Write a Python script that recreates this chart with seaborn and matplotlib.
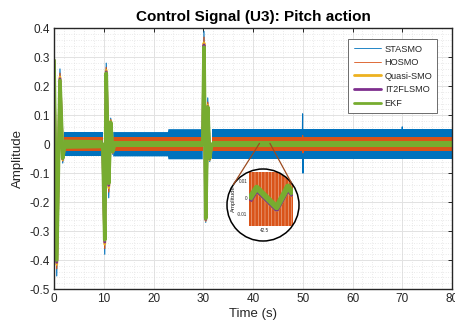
import numpy as np
import pandas as pd
import matplotlib
matplotlib.use("Agg")
import matplotlib.pyplot as plt
from matplotlib.patches import Ellipse, ConnectionPatch
from matplotlib.lines import Line2D
from matplotlib.ticker import MultipleLocator
import seaborn as sns

# ---------------- data ----------------
series = ["STASMO", "HOSMO", "Quasi-SMO", "IT2FLSMO", "EKF"]
colors = ["#0072BD", "#D95319", "#EDB120", "#7E2F8E", "#77AC30"]
line_widths = [0.8, 0.9, 2.0, 2.0, 2.6]
legend_widths = [0.6, 0.6, 2.0, 2.0, 2.0]

# transient responses (pitch reference changes at t = 0, 10, 30, 50, 70 s)
t_trans = [0.0, 0.55, 1.2, 1.75, 2.2, 9.8, 10.2, 10.5, 11.0, 11.4, 11.8, 12.2,
           29.9, 30.15, 30.5, 30.9, 31.3, 31.7, 49.9, 49.97, 50.05, 50.15,
           69.9, 70.0, 70.1, 80.0]
u3_stasmo = [0.30, -0.455, 0.26, -0.065, 0.0, 0.0, -0.38, 0.28, -0.185, 0.09, -0.035, 0.0,
             0.0, 0.39, -0.27, 0.16, -0.06, 0.0, 0.0, 0.105, -0.10, 0.0,
             0.0, 0.06, 0.0, 0.0]
u3_hosmo = [0.295, -0.43, 0.245, -0.058, 0.0, 0.0, -0.36, 0.265, -0.165, 0.085, -0.03, 0.0,
            0.0, 0.37, -0.265, 0.145, -0.055, 0.0, 0.0, 0.03, -0.03, 0.0,
            0.0, 0.0, 0.0, 0.0]
u3_quasi = [0.29, -0.415, 0.232, -0.053, 0.0, 0.0, -0.345, 0.255, -0.15, 0.08, -0.028, 0.0,
            0.0, 0.35, -0.262, 0.135, -0.052, 0.0, 0.0, 0.0, 0.0, 0.0,
            0.0, 0.0, 0.0, 0.0]
u3_it2 = [0.29, -0.408, 0.226, -0.05, 0.0, 0.0, -0.338, 0.25, -0.142, 0.077, -0.027, 0.0,
          0.0, 0.343, -0.26, 0.13, -0.05, 0.0, 0.0, 0.0, 0.0, 0.0,
          0.0, 0.0, 0.0, 0.0]
u3_ekf = [0.29, -0.40, 0.22, -0.048, 0.0, 0.0, -0.33, 0.245, -0.135, 0.075, -0.025, 0.0,
          0.0, 0.335, -0.256, 0.128, -0.048, 0.0, 0.0, 0.0, 0.0, 0.0,
          0.0, 0.0, 0.0, 0.0]

# chattering envelopes (half-width of the high-frequency band), NaN = no band
t_env = [2.0, 9.8, np.nan, 11.9, 22.9, 23.0, 29.9, np.nan, 31.7, 80.0]
env_stasmo = [0.042, 0.042, np.nan, 0.042, 0.042, 0.052, 0.052, np.nan, 0.052, 0.052]
env_hosmo = [0.025, 0.025, np.nan, 0.025, 0.025, 0.025, 0.025, np.nan, 0.025, 0.025]
env_quasi = [0.0095, 0.0095, np.nan, 0.0095, 0.0095, 0.0095, 0.0095, np.nan, 0.0095, 0.0095]
env_it2 = [0.0095, 0.0095, np.nan, 0.0095, 0.0095, 0.0095, 0.0095, np.nan, 0.0095, 0.0095]
env_ekf = [0.016, 0.014, np.nan, 0.011, 0.011, 0.011, 0.011, np.nan, 0.011, 0.011]

# zoomed window around t = 42.5 s
t_zoom = [42.45, 42.4747, 42.5413, 42.579, 42.597]
zoom_quasi = [-0.0012, 0.0050, -0.0068, 0.0057, 0.0012]
zoom_it2 = [-0.0017, 0.0052, -0.0066, 0.0059, 0.0014]
zoom_ekf = [-0.0008, 0.0061, -0.0058, 0.0068, 0.0022]
zoom_hosmo_env = 0.025
zoom_yticks = [-0.01, 0.0, 0.01]
zoom_ytick_labels = ["-0.01", "0", "0.01"]
zoom_xticks = [42.5]
zoom_xtick_labels = ["42.5"]

y_ticks = [-0.5, -0.4, -0.3, -0.2, -0.1, 0.0, 0.1, 0.2, 0.3, 0.4]
y_tick_labels = ["-0.5", "-0.4", "-0.3", "-0.2", "-0.1", "0", "0.1", "0.2", "0.3", "0.4"]

trans = [u3_stasmo, u3_hosmo, u3_quasi, u3_it2, u3_ekf]
envs = [env_stasmo, env_hosmo, env_quasi, env_it2, env_ekf]

# ---------------- style ----------------
sns.set_style("white")
plt.rcParams["font.family"] = ["Liberation Sans", "DejaVu Sans"]
plt.rcParams["hatch.linewidth"] = 0.5
ink = "#262626"

fig = plt.figure(figsize=(4.55, 3.24), dpi=100)
W, H = 455.0, 324.0
ax = fig.add_axes([54 / W, 1 - 289 / H, 398 / W, 260.6 / H])

for name, c, lw, u, env in zip(series, colors, line_widths, trans, envs):
    e = np.array(env, dtype=float)
    ax.fill_between(t_env, -e, e, color=c, lw=0, zorder=2)
    df = pd.DataFrame({"t": t_trans, "u": u})
    sns.lineplot(data=df, x="t", y="u", color=c, lw=lw, sort=False,
                 estimator=None, ax=ax, zorder=2)

ax.set_xlim(0, 80)
ax.set_ylim(-0.5, 0.4)
ax.xaxis.set_major_locator(MultipleLocator(10))
ax.xaxis.set_minor_locator(MultipleLocator(2))
ax.yaxis.set_minor_locator(MultipleLocator(0.02))
ax.set_yticks(y_ticks)
ax.set_yticklabels(y_tick_labels)
ax.set_axisbelow(True)
ax.grid(which="major", color="#E2E2E2", lw=0.7, ls="-")
ax.grid(which="minor", color="#D6D6D6", lw=0.5, ls=(0, (1, 2.5)))
ax.tick_params(which="major", direction="in", top=True, right=True, length=3,
               width=0.7, color=ink, labelsize=8.5, labelcolor=ink, pad=3)
ax.tick_params(which="minor", length=0)
for s in ax.spines.values():
    s.set_color(ink)
    s.set_linewidth(1.0)

ax.set_title("Control Signal (U3): Pitch action", fontsize=11, fontweight="bold",
             color="black", pad=5)
ax.set_xlabel("Time (s)", fontsize=9.5, color=ink, labelpad=2)
ax.set_ylabel("Amplitude", fontsize=9.5, color=ink, labelpad=4)

handles = [Line2D([], [], color=c, lw=w) for c, w in zip(colors, legend_widths)]
leg = ax.legend(handles, series, loc="upper right", bbox_to_anchor=(0.975, 0.975),
                fontsize=6.6, frameon=True, fancybox=False, framealpha=1,
                handlelength=3.0, handletextpad=0.4, labelspacing=0.5,
                borderpad=0.55)
leg.get_frame().set_edgecolor("#555555")
leg.get_frame().set_linewidth(0.6)
for txt in leg.get_texts():
    txt.set_color(ink)

# ---------------- circular magnifier ----------------
cx, cy, r = 263.0, 205.0, 36.0
lens_center = (cx / W, 1 - cy / H)
lens_w, lens_h = 2 * r / W, 2 * r / H

axin = fig.add_axes([249.3 / W, 1 - 226 / H, 44 / W, 54 / H])
axin.set_facecolor("none")
lens_bg = Ellipse(lens_center, lens_w, lens_h, transform=fig.transFigure,
                  facecolor="white", edgecolor="none", zorder=-5, clip_on=False)
axin.add_patch(lens_bg)

band = axin.fill_between([t_zoom[0], t_zoom[-1]], [-zoom_hosmo_env] * 2,
                         [zoom_hosmo_env] * 2, facecolor="#D95319",
                         edgecolor="#EBA888", hatch="|||||", lw=0, zorder=1)
band.set_clip_path(lens_bg)
for vals, c in zip([zoom_quasi, zoom_it2, zoom_ekf], colors[2:]):
    sns.lineplot(x=t_zoom, y=vals, color=c, lw=4.2, sort=False, estimator=None,
                 ax=axin, zorder=3)
for ln in axin.lines:
    ln.set_clip_path(lens_bg)
    ln.set_solid_capstyle("butt")

axin.set_xlim(t_zoom[0], t_zoom[-1])
axin.set_ylim(-0.017, 0.0155)
axin.set_xticks(zoom_xticks)
axin.set_xticklabels(zoom_xtick_labels)
axin.set_yticks(zoom_yticks)
axin.set_yticklabels(zoom_ytick_labels)
axin.tick_params(labelsize=3.3, length=0, pad=1.5, labelcolor=ink)
axin.set_xlabel("")
axin.set_ylabel("Amplitude", fontsize=4.3, color=ink, labelpad=1)
for s in axin.spines.values():
    s.set_visible(False)

rim = Ellipse(lens_center, lens_w, lens_h, transform=fig.transFigure,
              facecolor="none", edgecolor="black", lw=1.1, zorder=10, clip_on=False)
axin.add_patch(rim)

# leader lines from the zoomed region to the lens rim
for t0, ang in [(41.3, 145.0), (43.4, 38.0)]:
    px = cx + r * np.cos(np.deg2rad(ang))
    py = cy - r * np.sin(np.deg2rad(ang))
    con = ConnectionPatch(xyA=(t0, 0.003), coordsA=ax.transData,
                          xyB=(px / W, 1 - py / H), coordsB=fig.transFigure,
                          color="#9C4A1E", lw=0.9)
    fig.add_artist(con)

fig.savefig("out.png", dpi=100)
